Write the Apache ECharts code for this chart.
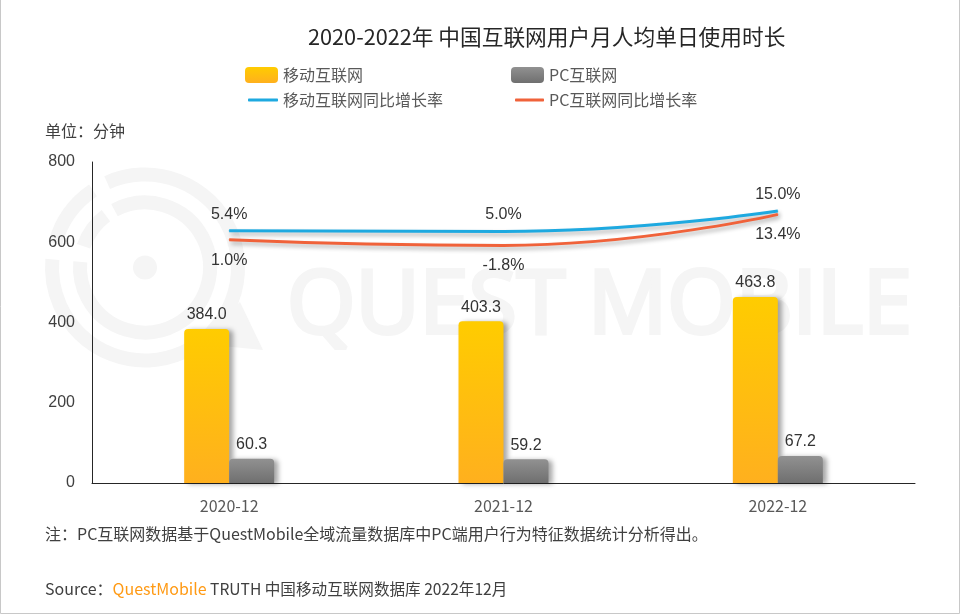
<!DOCTYPE html>
<html>
<head>
<meta charset="utf-8">
<style>html,body{margin:0;padding:0;background:#fff}#main{width:960px;height:614px}</style>
<script src="https://cdn.jsdelivr.net/npm/echarts@6/dist/echarts.min.js"></script>
</head>
<body>
<div id="main"></div>
<script>
const months = ['2020-12', '2021-12', '2022-12'];
const mobileMinutes = [384.0, 403.3, 463.8];
const pcMinutes = [60.3, 59.2, 67.2];
const mobileGrowth = [5.4, 5.0, 15.0];
const pcGrowth = [1.0, -1.8, 13.4];
const yTicks = [0, 200, 400, 600, 800];

const cn = '"Noto Sans CJK SC", sans-serif';
const latin = '"Liberation Sans", Arial, sans-serif';
const wm = '#f5f5f5';

const grad = (a, b) => new echarts.graphic.LinearGradient(0, 0, 0, 1, [
  { offset: 0, color: a },
  { offset: 1, color: b }
]);
const yellow = grad('#ffcc00', '#ffb01e');
const gray = grad('#919191', '#6f6f6f');

const barSeries = (name, data, color) => ({
  name, type: 'bar', data, barWidth: 45, barGap: 0, z: 3,
  itemStyle: {
    color, borderRadius: [4, 4, 0, 0],
    shadowColor: 'rgba(0,0,0,0.35)', shadowBlur: 5, shadowOffsetX: 4, shadowOffsetY: 1
  },
  label: {
    show: true, position: 'top', distance: 6, color: '#333', fontSize: 16, fontFamily: latin,
    formatter: p => p.value.toFixed(1)
  }
});
const lineSeries = (name, data, color, pos, dist) => ({
  name, type: 'line', data, yAxisIndex: 1, smooth: true, symbol: 'circle', symbolSize: 1, z: 4,
  lineStyle: { color, width: 3, shadowColor: 'rgba(0,0,0,0.3)', shadowBlur: 4, shadowOffsetX: 2, shadowOffsetY: 3 },
  itemStyle: { color },
  label: {
    show: true, position: pos, distance: dist, color: '#333', fontSize: 16, fontFamily: latin,
    formatter: p => p.value.toFixed(1) + '%'
  }
});
const legendAt = (name, left, top, w, h) => ({
  data: [{ name, icon: 'roundRect' }], left, top, itemWidth: w, itemHeight: h, padding: 0,
  textStyle: { color: '#595959', fontSize: 16, fontFamily: cn }
});
const ring = (r, startDeg, endDeg) => ({
  type: 'arc', z: -1, silent: true,
  shape: { cx: 145, cy: 267.5, r, startAngle: startDeg * Math.PI / 180, endAngle: endDeg * Math.PI / 180 },
  style: { stroke: wm, lineWidth: 14, fill: null }
});

const chart = echarts.init(document.getElementById('main'));
chart.setOption({
  animation: false,
  backgroundColor: '#fff',
  grid: { left: 92, right: 45, top: 162, bottom: 131 },
  title: [
    { text: '2020-2022年 中国互联网用户月人均单日使用时长', left: 308, top: 26, padding: 0,
      textStyle: { color: '#262626', fontSize: 21.7, fontWeight: 'normal', fontFamily: cn } },
    { text: '单位：分钟', left: 45, top: 123, padding: 0,
      textStyle: { color: '#404040', fontSize: 16, fontWeight: 'normal', fontFamily: cn } },
    { text: '注：PC互联网数据基于QuestMobile全域流量数据库中PC端用户行为特征数据统计分析得出。', left: 45, top: 526, padding: 0,
      textStyle: { color: '#404040', fontSize: 16, fontWeight: 'normal', fontFamily: cn } },
    { text: 'Source：{q|QuestMobile}{t| TRUTH 中国移动互联网数据库 2022年12月}', left: 45, top: 581, padding: 0,
      textStyle: { color: '#404040', fontSize: 16, fontWeight: 'normal', fontFamily: cn,
        rich: { q: { color: '#ff9a14', fontSize: 16, fontFamily: cn }, t: { color: '#404040', fontSize: 15.6, fontFamily: cn } } } }
  ],
  legend: [
    legendAt('移动互联网', 245, 67, 33, 16),
    legendAt('PC互联网', 511, 67, 33, 16),
    legendAt('移动互联网同比增长率', 248, 92, 30, 3),
    legendAt('PC互联网同比增长率', 515, 92, 29, 3)
  ],
  xAxis: {
    type: 'category', data: months,
    axisLine: { lineStyle: { color: '#262626', width: 1 } },
    axisTick: { show: false },
    axisLabel: { color: '#595959', fontSize: 16, fontFamily: cn, margin: 15 }
  },
  yAxis: [
    { type: 'value', min: yTicks[0], max: yTicks[yTicks.length - 1], interval: yTicks[1] - yTicks[0],
      axisLine: { show: true, lineStyle: { color: '#262626', width: 1 } },
      axisTick: { show: false }, splitLine: { show: false },
      axisLabel: { color: '#404040', fontSize: 16, fontFamily: latin, margin: 17 } },
    { type: 'value', min: -118, max: 39, show: false, splitLine: { show: false } }
  ],
  series: [
    barSeries('移动互联网', mobileMinutes, yellow),
    barSeries('PC互联网', pcMinutes, gray),
    lineSeries('移动互联网同比增长率', mobileGrowth, '#1ea9e0', 'top', 8),
    lineSeries('PC互联网同比增长率', pcGrowth, '#f0623a', 'bottom', 12)
  ],
  graphic: [
    ring(93, -114, 185),
    ring(93, 195, 236),
    ring(65, -118, 185),
    ring(65, 199, 233),
    { type: 'circle', z: -1, silent: true, shape: { cx: 145, cy: 267.5, r: 12 }, style: { fill: wm } },
    { type: 'polygon', z: -1, silent: true,
      shape: { points: [[240, 302], [263, 350], [222, 346], [216, 325]] }, style: { fill: wm } },
    { type: 'text', z: -1, silent: true, left: 285, top: 262,
      style: { text: 'QUEST MOBILE', fill: wm, stroke: wm, lineWidth: 4, font: '88px "Open Sans", sans-serif' } },
    { type: 'rect', z: 10, silent: true, shape: { x: 0.5, y: -2, width: 959, height: 615.5 },
      style: { fill: null, stroke: '#c8c8c8', lineWidth: 1 } }
  ]
});
</script>
</body>
</html>
